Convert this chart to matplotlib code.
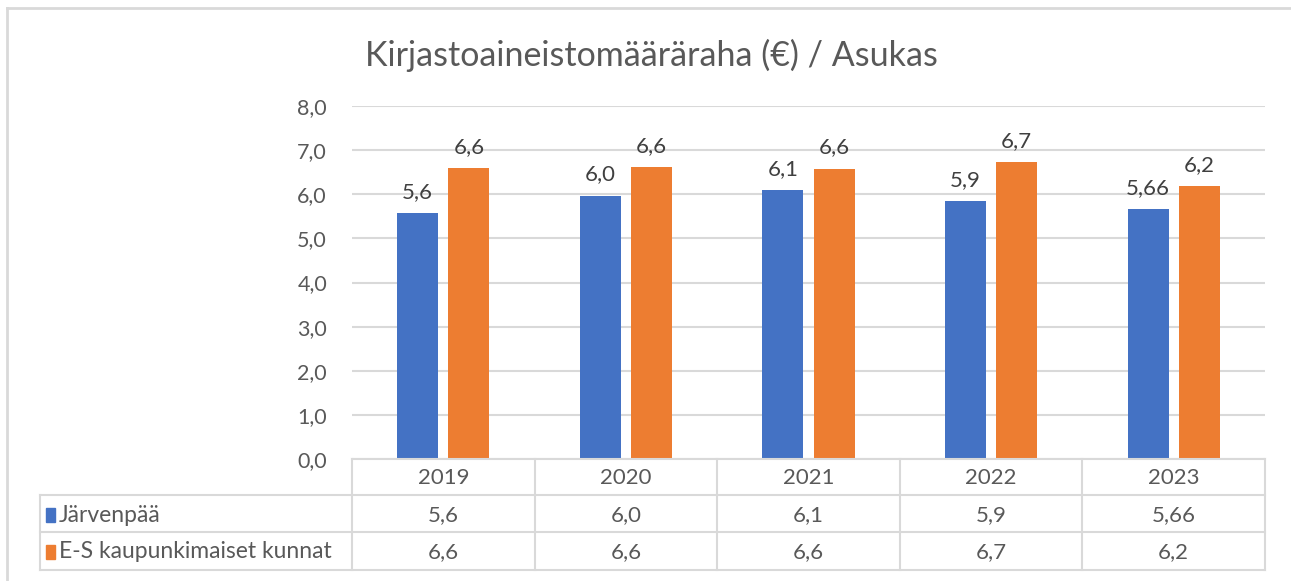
import matplotlib.pyplot as plt
import numpy as np
from matplotlib.patches import Rectangle

years = ["2019", "2020", "2021", "2022", "2023"]
series_names = ["Järvenpää", "E-S kaupunkimaiset kunnat"]
jarvenpaa = [5.58, 5.97, 6.09, 5.84, 5.66]
es_kunnat = [6.60, 6.62, 6.58, 6.73, 6.19]
jarvenpaa_labels = ["5,6", "6,0", "6,1", "5,9", "5,66"]
es_labels = ["6,6", "6,6", "6,6", "6,7", "6,2"]
yticks = np.arange(0, 9, 1)

BLUE = "#4472C4"
ORANGE = "#ED7D31"
GRID = "#d9d9d9"
TXT = "#595959"
FONT = "Lato"
FS = 16

W, H = 1291, 581
fig = plt.figure(figsize=(W / 100, H / 100), dpi=100)
plt.rcParams["font.family"] = [FONT, "DejaVu Sans"]


def fx(px):
    return px / W


def fy(py):
    return 1 - py / H


ax_l, ax_r, ax_t, ax_b = 352, 1265, 106, 459
ax = fig.add_axes([fx(ax_l), fy(ax_b), fx(ax_r - ax_l), fy(ax_t) - fy(ax_b)])

x = np.arange(len(years))
bw = 0.225
off = 0.14
b1 = ax.bar(x - off, jarvenpaa, bw, color=BLUE, zorder=3)
b2 = ax.bar(x + off, es_kunnat, bw, color=ORANGE, zorder=3)

for bars, labels in [(b1, jarvenpaa_labels), (b2, es_labels)]:
    for rect, lab in zip(bars, labels):
        ax.annotate(lab, (rect.get_x() + rect.get_width() / 2, rect.get_height()),
                    xytext=(0, 8), textcoords="offset points",
                    ha="center", va="bottom", fontsize=FS, color="#404040")

ax.set_xlim(-0.5, len(years) - 0.5)
ax.set_ylim(0, 8)
ax.set_yticks(yticks)
ax.set_yticklabels([f"{v:.1f}".replace(".", ",") for v in yticks],
                   fontsize=15.5, color=TXT)
ax.tick_params(axis="y", length=0, pad=18)
ax.set_xticks([])
ax.grid(axis="y", color=GRID, lw=1.5, zorder=0)
for s in ax.spines.values():
    s.set_visible(False)

# title
fig.text(fx(651), fy(55), "Kirjastoaineistomääräraha (€) / Asukas",
         ha="center", va="center", fontsize=24.5, color=TXT)

# data table
rows_y = [459, 495, 532, 570]
tab_l = 40
cat_w = (ax_r - ax_l) / len(years)
lw = 1.5
fig.add_artist(plt.Line2D([fx(ax_l), fx(ax_r)], [fy(459), fy(459)],
                          color=GRID, lw=lw))
for yy in rows_y[1:]:
    fig.add_artist(plt.Line2D([fx(tab_l), fx(ax_r)], [fy(yy), fy(yy)],
                              color=GRID, lw=lw))
for i in range(len(years) + 1):
    xx = ax_l + i * cat_w
    fig.add_artist(plt.Line2D([fx(xx), fx(xx)], [fy(459), fy(570)],
                              color=GRID, lw=lw))
fig.add_artist(plt.Line2D([fx(tab_l), fx(tab_l)], [fy(495), fy(570)],
                          color=GRID, lw=lw))

for i, yr in enumerate(years):
    cx = ax_l + (i + 0.5) * cat_w
    fig.text(fx(cx), fy(478), yr, ha="center", va="center", fontsize=FS, color=TXT)
    fig.text(fx(cx), fy(515), jarvenpaa_labels[i], ha="center", va="center",
             fontsize=FS, color=TXT)
    fig.text(fx(cx), fy(552), es_labels[i], ha="center", va="center",
             fontsize=FS, color=TXT)

for row, (name, col) in enumerate(zip(series_names, [BLUE, ORANGE])):
    cy = 515 + row * 37
    fig.add_artist(Rectangle((fx(46), fy(cy + 7)), fx(9), fy(cy - 7) - fy(cy + 7),
                             color=col, transform=fig.transFigure))
    fig.text(fx(59), fy(cy), name, ha="left", va="center", fontsize=16.5, color=TXT)

# outer chart border (top and left visible)
fig.add_artist(plt.Line2D([fx(7), fx(W)], [fy(8), fy(8)], color=GRID, lw=2))
fig.add_artist(plt.Line2D([fx(7), fx(7)], [fy(8), fy(H)], color=GRID, lw=2))

fig.savefig("out.png", dpi=100)
